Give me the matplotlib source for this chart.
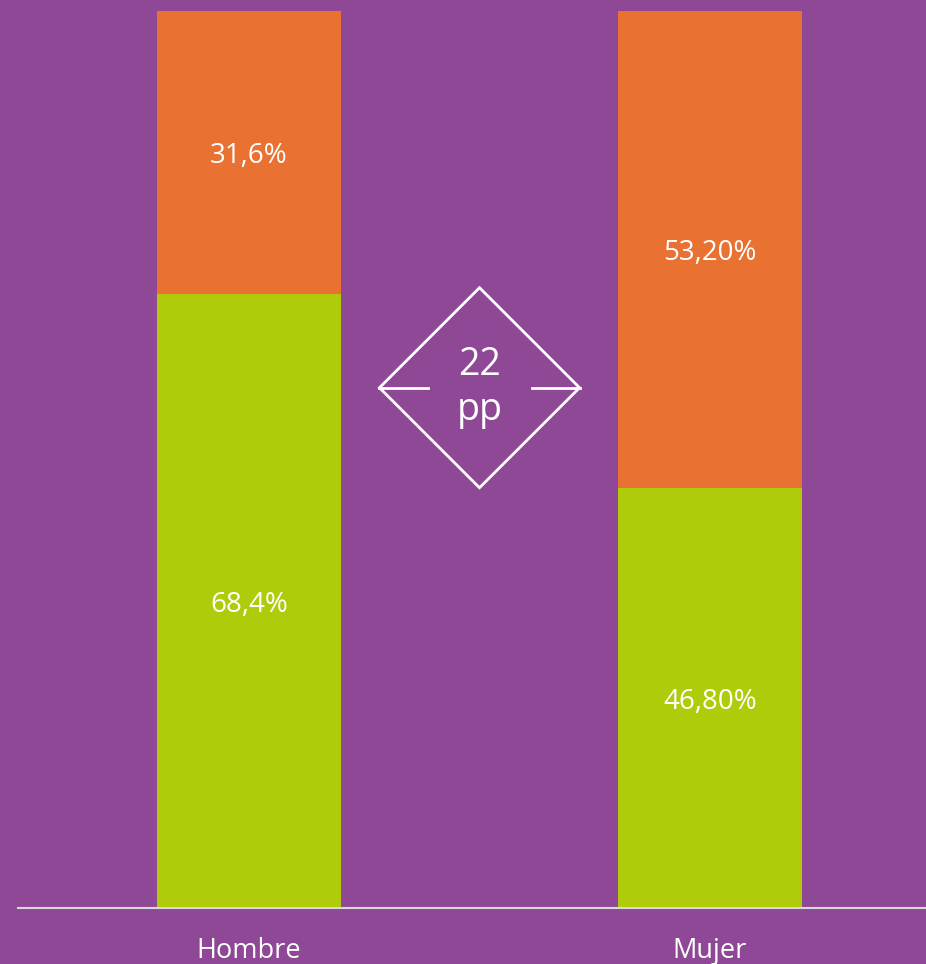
import matplotlib.pyplot as plt
from matplotlib.patches import Polygon

# datos
categorias = ["Hombre", "Mujer"]
verde = [68.4, 46.8]
naranja = [31.6, 53.2]
etiquetas_verde = ["68,4%", "46,80%"]
etiquetas_naranja = ["31,6%", "53,20%"]
diferencia = "22\npp"

fondo = "#8E4896"
c_verde = "#B0CB0A"
c_naranja = "#E97132"

plt.rcParams['font.family'] = ['Open Sans', 'DejaVu Sans']

fig = plt.figure(figsize=(9.26, 9.64), dpi=100, facecolor=fondo)
ax = fig.add_axes([18 / 926, 56 / 964, 908 / 926, 897 / 964])
ax.set_facecolor(fondo)

x = range(len(categorias))
ax.bar(x, verde, width=0.399, color=c_verde)
ax.bar(x, naranja, width=0.399, bottom=verde, color=c_naranja)

for i in x:
    ax.text(i, verde[i] / 2, etiquetas_verde[i], ha="center",
            va="center_baseline", color="white", fontsize=20)
    ax.text(i, verde[i] + naranja[i] / 2, etiquetas_naranja[i], ha="center",
            va="center_baseline", color="white", fontsize=20)

ax.set_xlim(-0.501, 1.4685)
ax.set_ylim(0, 100)

# rombo con la diferencia
cx, cy = 0.5, 58.0
dx, dy = 0.217, 11.15
rombo = Polygon([[cx - dx, cy], [cx, cy + dy], [cx + dx, cy], [cx, cy - dy]],
                closed=True, fill=False, edgecolor="white", linewidth=2)
ax.add_patch(rombo)
ax.plot([cx - dx, cx - dx + 0.106], [cy, cy], color="white", lw=2)
ax.plot([cx + dx - 0.104, cx + dx], [cy, cy], color="white", lw=2)
ax.text(cx, cy, diferencia, ha="center", va="center", color="white",
        fontsize=27, linespacing=1.25)

for s in ["top", "right", "left"]:
    ax.spines[s].set_visible(False)
ax.spines["bottom"].set_color("#D9D9D9")
ax.spines["bottom"].set_linewidth(1.5)
ax.set_yticks([])
ax.set_xticks(list(x))
ax.set_xticklabels(categorias, color="white", fontsize=19.5)
ax.tick_params(axis="x", length=0, pad=21)

fig.savefig("out.png", dpi=100, facecolor=fondo)
